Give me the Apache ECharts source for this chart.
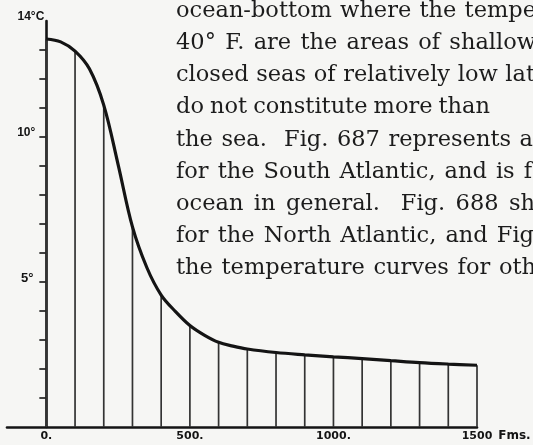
<!DOCTYPE html>
<html>
<head>
<meta charset="utf-8">
<script src="https://cdn.jsdelivr.net/npm/echarts@6/dist/echarts.min.js"></script>
<style>
  html, body { margin: 0; padding: 0; background: #f6f6f4; }
  #chart { width: 533px; height: 445px; }
</style>
</head>
<body>
<div id="chart"></div>
<script>
// Depth below the surface, in fathoms
const depths = [0, 50, 100, 150, 200, 250, 300, 350, 400, 450, 500, 550, 600, 650, 700,
                800, 900, 1000, 1100, 1200, 1300, 1400, 1500];
// Mean sea temperature at each depth, in °C
const temps = [13.38, 13.28, 12.96, 12.35, 11.1, 9.05, 6.9, 5.5, 4.55, 3.98, 3.5, 3.17, 2.92, 2.79, 2.69,
               2.57, 2.49, 2.42, 2.36, 2.29, 2.22, 2.17, 2.13];
// Depths at which an ordinate is drawn up to the curve
const ordinateStep = 100;
// Axis labels
const depthTicks = [0, 500, 1000, 1500];
const tempTicks = [5, 10, 14];
const tempMinorTicks = [1, 2, 3, 4, 5, 6, 7, 8, 9, 10, 11, 12, 13];
const depthUnit = 'Fms.';
// Running text set beside the figure; each line carries its justified right edge
const bodyLines = [
  'ocean-bottom where the tempe',
  '40° F. are the areas of shallow',
  'closed seas of relatively low lat',
  'do not constitute more than',
  'the sea.  Fig. 687 represents a',
  'for the South Atlantic, and is f',
  'ocean in general.  Fig. 688 sh',
  'for the North Atlantic, and Fig',
  'the temperature curves for oth'
];
const bodyRightEdges = [536, 536, 535, 490, 533, 532, 535, 534, 536];

const ink = '#141414';
const curve = depths.map((d, i) => [d, temps[i]]);
const ordinates = curve.filter(p => p[0] % ordinateStep === 0);

// Grid geometry
const W = 533, H = 445;
const gridLeft = 7, gridRight = 56, gridTop = 21, gridBottom = 18;
const xMin = -137, xMax = 1500;
const gridWidth = W - gridLeft - gridRight;
// shift the temperature axis so it stands at depth 0
const yAxisOffset = -((0 - xMin) / (xMax - xMin)) * gridWidth;

// Justified body text: words are spread so every line meets its right edge
const bodySize = 22.5;
const bodyFamily = '"DejaVu Serif"';
const bodyFont = bodySize + 'px ' + bodyFamily;
const bodyLeft = 176;
const measure = document.createElement('canvas').getContext('2d');
measure.font = bodyFont;
const textElems = [];
bodyLines.forEach((line, k) => {
  const words = line.split(' ');
  const gaps = words.length - 1;
  const wordW = words.map(w => (w ? measure.measureText(w).width : 0));
  const total = wordW.reduce((a, b) => a + b, 0);
  const gap = (bodyRightEdges[k] - bodyLeft - total) / gaps;
  const bottom = 22.3 + 32.2 * k;
  let x = bodyLeft;
  words.forEach((w, j) => {
    if (w) {
      textElems.push({
        type: 'text',
        x: x,
        y: bottom,
        silent: true,
        style: {
          text: w,
          font: bodyFont,
          fill: '#1c1c1c',
          verticalAlign: 'bottom',
          textVerticalAlign: 'bottom',
          lineHeight: bodySize
        }
      });
    }
    x += wordW[j] + gap;
  });
});

const chart = echarts.init(document.getElementById('chart'), null, { renderer: 'canvas' });
chart.setOption({
  backgroundColor: '#f6f6f4',
  animation: false,
  grid: {
    left: gridLeft, right: gridRight, top: gridTop, bottom: gridBottom,
    outerBoundsMode: 'none', containLabel: false
  },
  xAxis: {
    type: 'value',
    min: xMin,
    max: xMax,
    splitLine: { show: false },
    axisLine: { show: true, onZero: false, lineStyle: { color: ink, width: 2.6 } },
    axisTick: { show: false },
    axisLabel: {
      customValues: depthTicks,
      margin: 4,
      color: ink,
      fontFamily: 'DejaVu Sans',
      fontWeight: 'bold',
      fontSize: 11,
      formatter: v => (v === 1500 ? String(v) : v + '.')
    },
    name: depthUnit,
    nameLocation: 'end',
    nameGap: 0,
    nameTextStyle: {
      color: ink,
      fontFamily: 'DejaVu Sans',
      fontWeight: 'bold',
      fontSize: 12,
      align: 'left',
      verticalAlign: 'top',
      padding: [3, 0, 0, 0]
    }
  },
  yAxis: {
    type: 'value',
    min: 0,
    max: 14,
    position: 'left',
    offset: yAxisOffset,
    splitLine: { show: false },
    axisLine: { show: true, onZero: false, lineStyle: { color: ink, width: 2.6 } },
    axisTick: {
      show: true,
      customValues: tempMinorTicks,
      length: 7,
      lineStyle: { color: ink, width: 1.6 }
    },
    axisLabel: {
      customValues: tempTicks,
      margin: 2,
      color: ink,
      fontFamily: 'Liberation Sans',
      fontWeight: 'bold',
      fontSize: 12,
      verticalAlign: 'bottom',
      lineHeight: 8,
      formatter: v => (v === 14 ? '{c|' + v + '°C}' : v === 5 ? '{f|' + v + '°}' : '{n|' + v + '°}'),
      rich: {
        c: { fontFamily: 'Liberation Sans', fontWeight: 'bold', fontSize: 12, color: ink, lineHeight: 8 },
        n: { fontFamily: 'Liberation Sans', fontWeight: 'bold', fontSize: 12, color: ink, lineHeight: 8, padding: [0, 9, 0, 0] },
        f: { fontFamily: 'Liberation Sans', fontWeight: 'bold', fontSize: 13, color: ink, lineHeight: 8, padding: [0, 11, 0, 0] }
      }
    }
  },
  series: [
    {
      type: 'bar',
      data: ordinates,
      barWidth: 1.7,
      itemStyle: { color: '#333333' },
      silent: true
    },
    {
      type: 'line',
      data: curve,
      smooth: 0.35,
      symbol: 'none',
      lineStyle: { color: ink, width: 3.2 },
      silent: true
    }
  ],
  graphic: textElems
});
</script>
</body>
</html>
